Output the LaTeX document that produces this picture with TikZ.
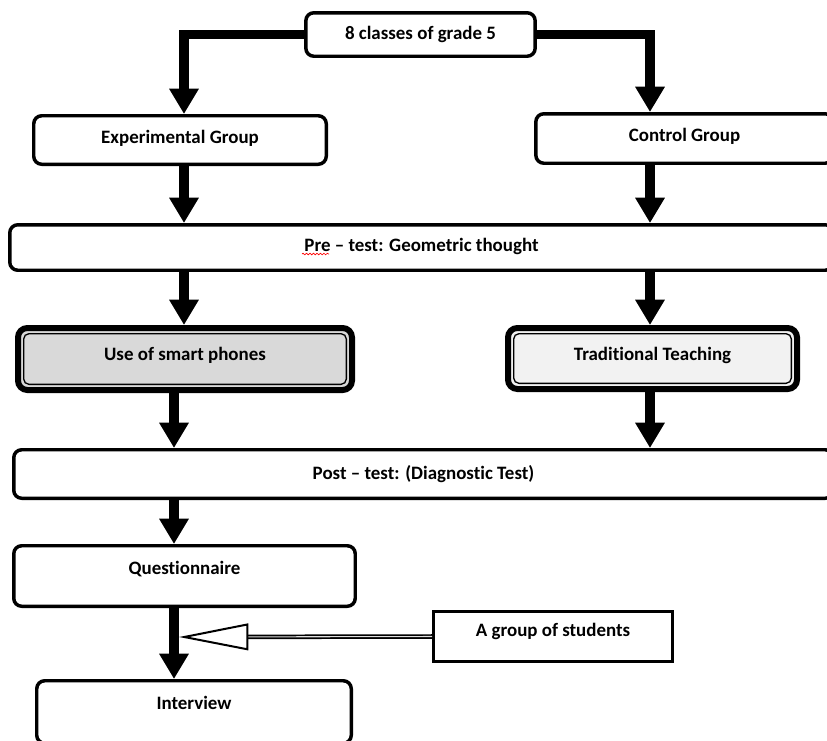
\documentclass[tikz,border=0pt]{standalone}
\usepackage{fontspec}
\setmainfont{Carlito}[Ligatures=NoCommon]
\usetikzlibrary{arrows.meta,decorations.pathmorphing}
\tikzset{
  box/.style={draw, line width=2.6pt, rounded corners=6pt, fill=white, align=center,
    font=\bfseries\fontsize{14.2}{17}\selectfont, text height=10pt, text depth=3pt},
  plainbox/.style={box, rounded corners=0pt, line width=2.25pt},
  twinbox/.style={box, line width=4.5pt, rounded corners=7pt},
  up/.style={text depth=#1},
  flow/.style={line width=7pt, -{Triangle[width=21pt,length=19pt]}},
  twin/.style={draw, line width=1.3pt, double=gray!25, double distance=0.8pt},
  wave/.style={red, line width=0.5pt, decorate, decoration={snake, amplitude=0.6pt, segment length=2.6pt}}
}
\begin{document}
\begin{tikzpicture}[x=0.75pt, y=-0.75pt]
\useasboundingbox (0,0) rectangle (827,740);
\coordinate (L) at (184,0);
\coordinate (R) at (650,0);
\coordinate (L2) at (174,0);

\node[box, minimum width=172pt, minimum height=32.6pt, up=3.2pt] (cls) at (420.5,34.5) {8 classes of grade 5};
\node[box, minimum width=219.4pt, minimum height=36.4pt, up=5.5pt] (exp) at (180,140) {Experimental Group};
\node[box, minimum width=223pt, minimum height=37.1pt, up=6.2pt] (ctrl) at (684.5,138.5) {Control Group};
\node[box, minimum width=617.6pt, minimum height=34.1pt, up=4.75pt] (pre) at (421.5,247.5) {Pre -- test: Geometric thought};
\node[twinbox, fill=gray!30, minimum width=250.5pt, minimum height=46.5pt, up=8.5pt] (phones) at (185,359) {Use of smart phones};
\node[twinbox, fill=gray!10, minimum width=216.75pt, minimum height=45.75pt, up=7.75pt] (trad) at (652.5,358.5) {Traditional Teaching};
\node[box, minimum width=614.6pt, minimum height=36.4pt, up=2.5pt] (post) at (423.5,474) {Post -- test: (Diagnostic Test)};
\node[box, minimum width=256.1pt, minimum height=45.4pt, up=13pt] (quest) at (184.5,576) {Questionnaire};
\node[box, minimum width=235.9pt, minimum height=46.9pt, up=14.5pt] (intv) at (194,712) {Interview};
\node[plainbox, minimum width=179.25pt, minimum height=37.5pt, up=10.75pt] (group) at (553,636.5) {A group of students};

% inner lines of the two treatment boxes
\foreach \b in {phones,trad}
  \draw[line width=1pt, rounded corners=4pt] ([shift={(6.5pt,-6.5pt)}]\b.north west) rectangle ([shift={(-6.5pt,6.5pt)}]\b.south east);

% spelling mark under Pre
\draw[wave] (302,254) -- (329,254);

\draw[flow] (cls.west) -| (exp.north -| L);
\draw[flow] (cls.east) -| (ctrl.north -| R);
\draw[flow] (exp.south -| L) -- (pre.north -| L);
\draw[flow] (ctrl.south -| R) -- (pre.north -| R);
\draw[flow] (pre.south -| L) -- (phones.north -| L);
\draw[flow] (pre.south -| R) -- (trad.north -| R);
\draw[flow] (phones.south -| L2) -- (post.north -| L2);
\draw[flow] (trad.south -| R) -- (post.north -| R);
\draw[flow] (post.south -| L2) -- (quest.north -| L2);
\draw[flow] (quest.south -| L2) -- (intv.north -| L2);

\coordinate (join) at (179,637);
\draw[twin, -{Triangle[fill=white, line width=1.5pt, length=52pt, width=20pt]}] (group.west) -- (join);
\end{tikzpicture}
\end{document}
